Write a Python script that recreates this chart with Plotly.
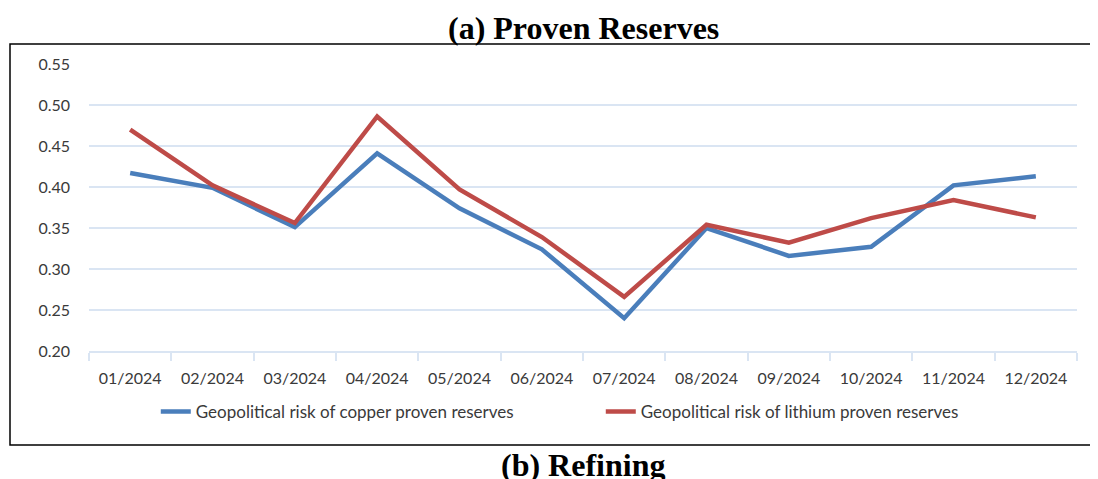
import plotly.graph_objects as go

months = ["01/2024", "02/2024", "03/2024", "04/2024", "05/2024", "06/2024",
          "07/2024", "08/2024", "09/2024", "10/2024", "11/2024", "12/2024"]
copper = [0.417, 0.399, 0.351, 0.441, 0.374, 0.324, 0.240, 0.350, 0.316, 0.327, 0.402, 0.413]
lithium = [0.470, 0.402, 0.356, 0.486, 0.397, 0.339, 0.266, 0.354, 0.332, 0.362, 0.384, 0.363]
y_ticks = [0.20, 0.25, 0.30, 0.35, 0.40, 0.45, 0.50, 0.55]

BLUE = "#4A7EBB"
RED = "#BE4B48"
GRID = "#DAE5F3"
TICK_FONT = "Lato, Open Sans, sans-serif"
TITLE_FONT = "Liberation Serif, Times New Roman, serif"

fig = go.Figure()
fig.add_trace(go.Scatter(x=months, y=copper, mode="lines", name="Geopolitical risk of copper proven reserves",
                         line=dict(color=BLUE, width=4.5)))
fig.add_trace(go.Scatter(x=months, y=lithium, mode="lines", name="Geopolitical risk of lithium proven reserves",
                         line=dict(color=RED, width=4.5)))

# page body has an 8px margin, so the figure is sized/offset to land where the panel sits
fig.update_layout(
    width=1090, height=471,
    margin=dict(l=81, r=21, t=56, b=128),
    paper_bgcolor="white", plot_bgcolor="white",
    font=dict(family=TICK_FONT, size=16, color="#3a3a3a"),
    showlegend=True,
    legend=dict(orientation="h", x=0.518, xanchor="center", y=-0.2125, yanchor="middle",
                font=dict(size=17, color="#3a3a3a"), entrywidth=400, tracegroupgap=0,
                bgcolor="rgba(0,0,0,0)"),
)
fig.update_xaxes(range=[-0.5, 11.5], showgrid=False, showline=True, linecolor=GRID, linewidth=2,
                 ticks="outside", tickson="boundaries", tickcolor=GRID, ticklen=8, tickwidth=2,
                 zeroline=False, ticklabelstandoff=12)
fig.update_yaxes(range=[0.2, 0.55], tickvals=y_ticks, tickformat=".2f",
                 showgrid=True, gridcolor=GRID, gridwidth=2, zeroline=False,
                 showline=False, ticks="", ticklabelstandoff=18)

# outer frame of the figure panel
fig.add_shape(type="rect", xref="paper", yref="paper", x0=-79 / 988, x1=1.1, y0=(351 - 445) / 287,
              y1=(351 - 44) / 287, line=dict(color="black", width=1.5), layer="below")

fig.add_annotation(text="<b>(a) Proven Reserves</b>", xref="paper", yref="paper", x=0.5, y=(351 - 28) / 287,
                   yanchor="middle", showarrow=False, font=dict(family=TITLE_FONT, size=32, color="black"))
fig.add_annotation(text="<b>(b) Refining</b>", xref="paper", yref="paper", x=0.5, y=(351 - 465) / 287,
                   yanchor="middle", showarrow=False, font=dict(family=TITLE_FONT, size=32, color="black"))

fig.write_html("out.html")
